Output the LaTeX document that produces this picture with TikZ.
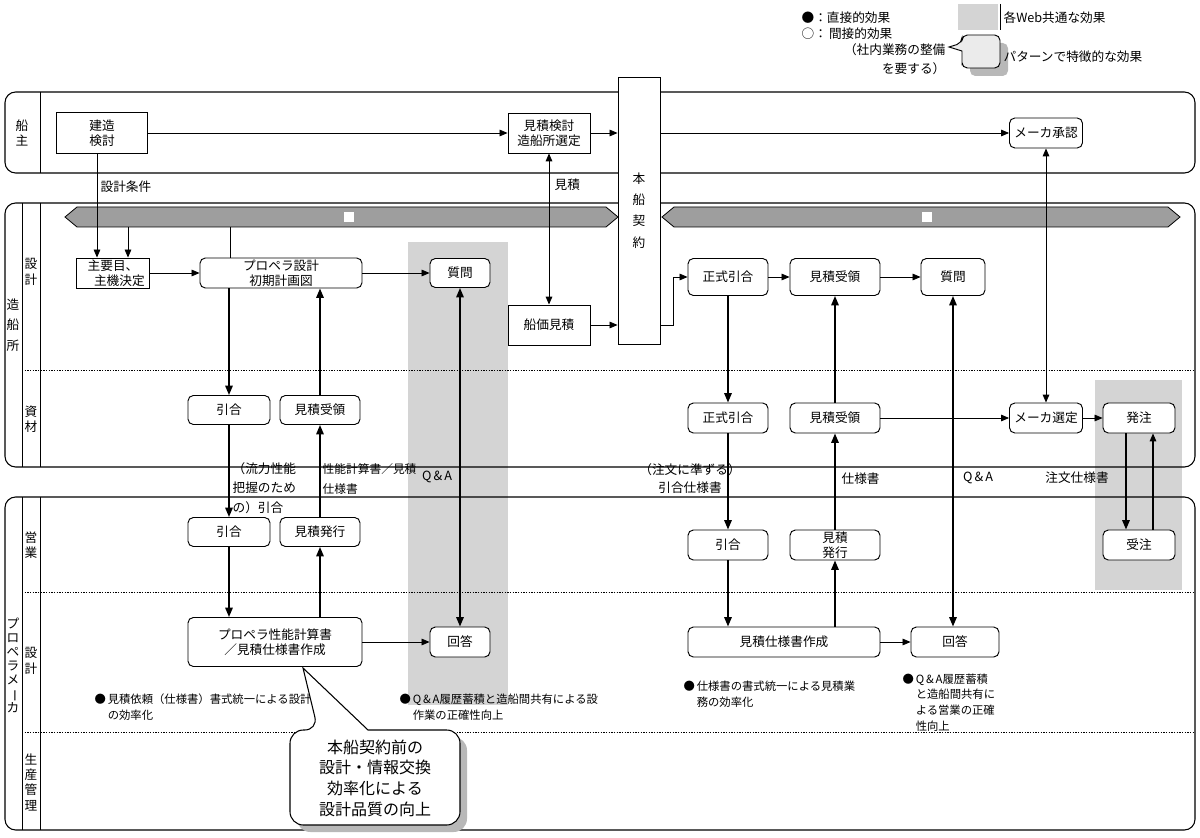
\documentclass[tikz,border=0pt]{standalone}
\usepackage{fontspec}
\setmainfont{Noto Sans CJK JP}
\usetikzlibrary{arrows.meta,calc}
\begin{document}
\begin{tikzpicture}[x=0.75pt,y=-0.75pt,
  bw/.style={minimum width=#1*0.75pt},
  bh/.style={minimum height=#1*0.75pt},
  box/.style={draw, fill=white, line width=0.7pt, inner sep=1pt, align=center, font=\fontsize{9.5}{11.5}\selectfont},
  rbox/.style={box, rounded corners=4pt},
  lanebox/.style={draw, line width=0.8pt, rounded corners=8pt},
  arr/.style={line width=0.6pt, -{Triangle[length=6pt,width=5pt]}},
  varr/.style={line width=1.3pt, -{Triangle[length=7pt,width=5.5pt]}},
  dvarr/.style={line width=1.3pt, {Triangle[length=7pt,width=5.5pt]}-{Triangle[length=7pt,width=5.5pt]}},
  dtarr/.style={line width=0.7pt, {Triangle[length=6pt,width=5pt]}-{Triangle[length=6pt,width=5pt]}},
  lbl/.style={font=\fontsize{9.5}{11.5}\selectfont, inner sep=1pt},
  lanelbl/.style={font=\fontsize{9.5}{11.5}\selectfont, inner sep=0pt, align=center},
  note/.style={font=\fontsize{8.5}{12.5}\selectfont, inner sep=1pt, align=left},
  dotline/.style={line width=0.5pt, dash pattern=on 1pt off 1pt},
  greyarea/.style={fill=black!17},
  banner/.style={fill=black!38, draw, line width=0.6pt}
]
\useasboundingbox (0,0) rectangle (1200,838);
\fill[white] (0,0) rectangle (1200,838);

% ---------- grey effect areas ----------
\fill[greyarea] (408,242) rectangle (508,705);
\fill[greyarea] (1095,380) rectangle (1182,590);

% ---------- lanes ----------
\draw[lanebox] (5,92) rectangle (1195,173);
\draw[line width=0.6pt] (40,92) -- (40,173);
\draw[lanebox] (5,203) rectangle (1195,467);
\draw[line width=0.6pt] (22,203) -- (22,467);
\draw[line width=0.6pt] (40,203) -- (40,467);
\draw[dotline] (22,370) -- (1195,370);
\draw[lanebox] (5,497) rectangle (1195,830);
\draw[line width=0.6pt] (22,497) -- (22,830);
\draw[line width=0.6pt] (40,497) -- (40,830);
\draw[dotline] (22,592) -- (1195,592);
\draw[dotline] (22,732) -- (1195,732);

\node[lanelbl] (l1) at (22,133) {船\\主};
\node[lanelbl] (l2) at (13,325) {造\\[4pt]船\\[4pt]所};
\node[lanelbl] (l3) at (31,272) {設\\計};
\node[lanelbl] (l4) at (31,419) {資\\材};
\node[lanelbl, font=\fontsize{9.5}{10.5}\selectfont] (l5) at (13,665) {プ\\ロ\\ペ\\ラ\\メ\\\rotatebox[origin=c]{-90}{ー}\\カ};
\node[lanelbl] (l6) at (31,545) {営\\業};
\node[lanelbl] (l7) at (31,661) {設\\計};
\node[lanelbl] (l8) at (31,782) {生\\産\\管\\理};

% ---------- banners ----------
\draw[banner] (65,217) -- (77,207) -- (606,207) -- (618,217) -- (606,227) -- (77,227) -- cycle;
\draw[banner] (662,217) -- (674,207) -- (1168,207) -- (1180,217) -- (1168,227) -- (674,227) -- cycle;
\node[fill=white, minimum size=7pt, inner sep=0pt] (bnL) at (349,217) {};
\node[fill=white, minimum size=7pt, inner sep=0pt] (bnR) at (927,217) {};
\coordinate (banB) at (0,227);

% ---------- contract box ----------
\node[box, bw=42, bh=267, font=\fontsize{9.5}{16}\selectfont] (K) at (639,210.5) {本\\船\\契\\約};

% ---------- nodes ----------
\node[box, bw=91, bh=41] (A1) at (102,133) {建造\\検討};
\node[box, bw=82, bh=40] (A2) at (549,133) {見積検討\\造船所選定};
\node[rbox, bw=73, bh=30] (A3) at (1046,133) {メーカ承認};

\node[box, bw=73, bh=30] (B1) at (113,273) {主要目、\\\quad 主機決定};
\node[rbox, bw=162, bh=30] (B2) at (281,273) {プロペラ設計\\初期計画図};
\node[rbox, bw=60, bh=29] (B3) at (460,273) {質問};
\node[box, bw=82, bh=40] (B4) at (549,325) {船価見積};
\node[rbox, bw=80, bh=37] (B5) at (728,277) {正式引合};
\node[rbox, bw=90, bh=37] (B6) at (835,277) {見積受領};
\node[rbox, bw=64, bh=37] (B7) at (953,277) {質問};

\node[rbox, bw=82, bh=29] (C1) at (229,410) {引合};
\node[rbox, bw=80, bh=29] (C2) at (320,410) {見積受領};
\node[rbox, bw=80, bh=30] (C3) at (728,418) {正式引合};
\node[rbox, bw=90, bh=30] (C4) at (835,418) {見積受領};
\node[rbox, bw=73, bh=30] (C5) at (1046,418) {メーカ選定};
\node[rbox, bw=72, bh=30] (C6) at (1139,418) {発注};

\node[rbox, bw=82, bh=29] (D1) at (229,532) {引合};
\node[rbox, bw=80, bh=29] (D2) at (320,532) {見積発行};
\node[rbox, bw=80, bh=30] (D3) at (728,545) {引合};
\node[rbox, bw=90, bh=30] (D4) at (835,545) {見積\\発行};
\node[rbox, bw=72, bh=30] (D5) at (1139,545) {受注};

\node[rbox, bw=174, bh=49] (E1) at (275,642) {プロペラ性能計算書\\／見積仕様書作成};
\node[rbox, bw=60, bh=30] (E2) at (460,642) {回答};
\node[rbox, bw=192, bh=30] (E3) at (784,642) {見積仕様書作成};
\node[rbox, bw=88, bh=30] (E4) at (955,642) {回答};

% ---------- column coordinates ----------
\coordinate (xa) at (97,0);
\coordinate (xb) at (128,0);
\coordinate (xc) at (230,0);
\coordinate (xo1) at (1126,0);
\coordinate (xo2) at (1153,0);

% ---------- connectors ----------
\draw[arr] (A1.south -| xa) -- (B1.north -| xa);
\draw[arr] (banB -| xb) -- (B1.north -| xb);
\draw[line width=0.6pt] (banB -| xc) -- (B2.north -| xc);
\draw[arr] (A1.east) -- (A2.west);
\draw[arr] (A2.east) -- (A2.east -| K.west);
\draw[arr] (A2.east -| K.east) -- (A3.west);
\draw[dtarr] (A2.south) -- (B4.north);
\draw[dtarr] (A3.south) -- (C5.north);
\draw[arr] (B1.east) -- (B2.west);
\draw[arr] (B2.east) -- (B3.west);
\draw[arr] (B4.east) -- (B4.east -| K.west);
\draw[arr] (B4.east -| K.east) -- ++(13,0) |- (B5.west);
\draw[arr] (B5.east) -- (B6.west);
\draw[arr] (B6.east) -- (B7.west);

\draw[varr] (B2.south -| C1) -- (C1.north);
\draw[varr] (C2.north) -- (B2.south -| C2);
\draw[varr] (C1.south) -- (D1.north);
\draw[varr] (D2.north) -- (C2.south);
\draw[varr] (D1.south) -- (E1.north -| D1);
\draw[varr] (E1.north -| D2) -- (D2.south);
\draw[dvarr] (B3.south) -- (E2.north);
\draw[arr] (E1.east |- E2) -- (E2.west);

\draw[varr] (B5.south) -- (C3.north);
\draw[varr] (C3.south) -- (D3.north);
\draw[varr] (D3.south) -- (E3.north -| D3);
\draw[varr] (E3.north -| D4) -- (D4.south);
\draw[varr] (D4.north) -- (C4.south);
\draw[varr] (C4.north) -- (B6.south);
\draw[dvarr] (B7.south) -- (E4.north -| B7);
\draw[arr] (E3.east) -- (E4.west);
\draw[arr] (C4.east) -- (C5.west);
\draw[arr] (C5.east) -- (C6.west);
\draw[varr] (C6.south -| xo1) -- (D5.north -| xo1);
\draw[arr, line width=0.8pt] (D5.north -| xo2) -- (C6.south -| xo2);

% ---------- connector labels ----------
\node[lbl, anchor=west] (t1) at (99,187) {設計条件};
\node[lbl, anchor=west] (t2) at (553,185) {見積};
\node[lbl, anchor=north west, align=left, font=\fontsize{9.5}{14.5}\selectfont] (t3) at (231,461) {（流力性能\\把握のため\\の）引合};
\node[lbl, anchor=north west, align=left, font=\fontsize{8.8}{15}\selectfont] (t4) at (321,462) {性能計算書／見積\\仕様書};
\node[lbl] (t5) at (437,477) {Q\,\&\,A};
\node[lbl, align=center, font=\fontsize{9.5}{13.5}\selectfont] (t6) at (690,479) {（注文に準ずる）\\引合仕様書};
\node[lbl, anchor=west] (t7) at (840,479) {仕様書};
\node[lbl] (t8) at (978,478) {Q\,\&\,A};
\node[lbl] (t9) at (1077,478) {注文仕様書};

% ---------- effect notes ----------
\node[note, anchor=north west] (n1) at (93,692) {●\,見積依頼（仕様書）書式統一による設計\\\phantom{●\,}の効率化};
\node[note, anchor=north west] (n2) at (398,692) {●\,Q\,\&\,A履歴蓄積と造船間共有による設\\\phantom{●\,}作業の正確性向上};
\node[note, anchor=north west] (n3) at (682,679) {●\,仕様書の書式統一による見積業\\\phantom{●\,}務の効率化};
\node[note, anchor=north west, font=\fontsize{8.5}{11.8}\selectfont] (n4) at (901,672) {●\,Q\,\&\,A履歴蓄積\\\phantom{●\,}と造船間共有に\\\phantom{●\,}よる営業の正確\\\phantom{●\,}性向上};

% ---------- big callout ----------
\fill[black!28, shift={(7,7)}, rounded corners=10pt] (290,770) -- (290,730) -- (318,730) [sharp corners] -- (303,668) -- (368,730) [rounded corners=10pt] -- (460,730) -- (460,825) -- (290,825) -- cycle;
\draw[fill=white, line width=0.8pt, rounded corners=10pt] (290,770) -- (290,730) -- (318,730) [sharp corners] -- (303,668) -- (368,730) [rounded corners=10pt] -- (460,730) -- (460,825) -- (290,825) -- cycle;
\node[align=center, font=\fontsize{12}{15.5}\selectfont] (cl) at (375,778) {本船契約前の\\設計・情報交換\\効率化による\\設計品質の向上};

% ---------- legend ----------
\node[lbl, anchor=west] (lg1) at (800,18) {●：直接的効果};
\node[lbl, anchor=west] (lg2) at (800,34) {○：\,間接的効果};
\node[lbl, anchor=north east, align=right, font=\fontsize{9.5}{14}\selectfont] (lg3) at (947,42) {（社内業務の整備\\を要する）};
\fill[greyarea] (958,4) rectangle (998,30);
\draw[line width=0.6pt] (1000,4) -- (1000,30);
\node[lbl, anchor=west] (lg4) at (1002,18) {各Web共通な効果};
\fill[black!28, shift={(8,8)}, rounded corners=4pt] (962,52) -- (962,35) -- (1000,35) -- (1000,68) -- (962,68) -- cycle;
\draw[fill=black!8, line width=0.7pt, rounded corners=4pt] (962,60) -- (962,68) -- (1000,68) -- (1000,35) -- (962,35) -- (962,43) [sharp corners] -- (949,47) -- (962,51) [rounded corners=4pt] -- cycle;
\node[lbl, anchor=west] (lg5) at (1002,57) {パターンで特徴的な効果};
\end{tikzpicture}
\end{document}
